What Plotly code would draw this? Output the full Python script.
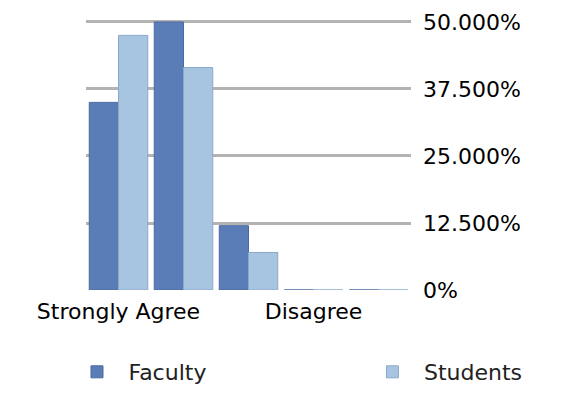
import plotly.graph_objects as go

categories = ["Strongly Agree", "Agree", "Neutral", "Disagree", "Strongly Disagree"]
category_labels = ["Strongly Agree", "", "", "Disagree", ""]
faculty = [35, 50, 12, 0, 0]
students = [47.5, 41.5, 7, 0, 0]
tick_values = [0, 12.5, 25, 37.5, 50]
tick_text = ["0%", "12.500%", "25.000%", "37.500%", "50.000%"]

FONT = "DejaVu Sans"
fig = go.Figure()
fig.add_trace(go.Bar(name="Faculty", x=categories, y=faculty, legend="legend",
                     marker=dict(color="#5b7db7", line=dict(color="#4a6aa0", width=1))))
fig.add_trace(go.Bar(name="Students", x=categories, y=students, legend="legend2",
                     marker=dict(color="#a7c4e1", line=dict(color="#8aa8c8", width=1))))

legend_common = dict(orientation="h", xref="paper", yref="paper", xanchor="left",
                     yanchor="middle", y=-0.294, itemwidth=53, itemclick=False,
                     bgcolor="rgba(0,0,0,0)",
                     font=dict(family=FONT, size=22, color="#222222"))

fig.update_layout(
    width=567, height=397,
    margin=dict(l=78, r=164, t=3, b=115, autoexpand=False),
    paper_bgcolor="white", plot_bgcolor="white",
    barmode="group", bargap=0.1, bargroupgap=0,
    font=dict(family=FONT, size=22, color="black"),
    showlegend=True,
    legend=dict(x=-0.0631, **legend_common),
    legend2=dict(x=0.846, **legend_common),
    xaxis=dict(tickmode="array", tickvals=categories, ticktext=category_labels,
               showgrid=False, showline=False, zeroline=False, ticks="", automargin=False,
               ticklabelstandoff=6, tickfont=dict(family=FONT, size=22, color="black")),
    yaxis=dict(side="right", range=[0, 52.05], tickmode="array", tickvals=tick_values,
               ticktext=tick_text, showgrid=True, gridcolor="#b3b3b3", gridwidth=3,
               zeroline=False, showline=False, ticks="", ticklabelstandoff=11, automargin=False,
               tickfont=dict(family=FONT, size=22, color="black")),
)

fig.write_html("out.html")
